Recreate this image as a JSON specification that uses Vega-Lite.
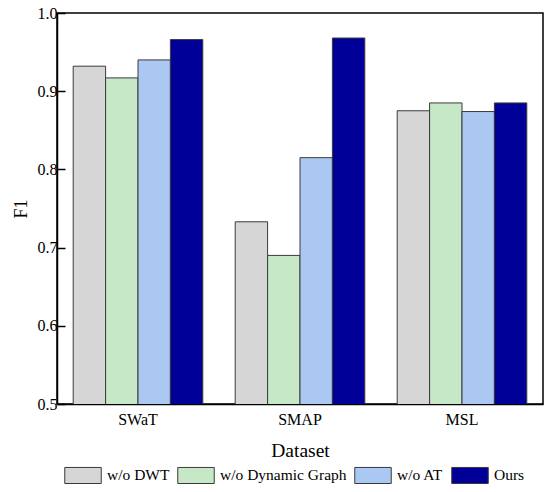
{
  "$schema": "https://vega.github.io/schema/vega-lite/v6.json",
  "width": 486,
  "height": 391,
  "autosize": {"type": "none"},
  "padding": {"left": 57, "top": 13, "right": 7, "bottom": 88},
  "background": "white",
  "config": {
    "font": "'Liberation Serif', 'Times New Roman', serif",
    "view": {"stroke": "black", "strokeWidth": 1.5},
    "axis": {"domainColor": "black", "domainWidth": 1.5, "tickColor": "black", "labelColor": "black", "titleColor": "black", "grid": false, "labelFont": "'Liberation Serif', 'Times New Roman', serif", "titleFont": "'Liberation Serif', 'Times New Roman', serif", "titleFontWeight": "normal"},
    "legend": {"labelFont": "'Liberation Serif', 'Times New Roman', serif", "labelColor": "black"}
  },
  "data": {
    "values": [
      {"dataset": "SWaT", "method": "w/o DWT", "f1": 0.932},
      {"dataset": "SWaT", "method": "w/o Dynamic Graph", "f1": 0.917},
      {"dataset": "SWaT", "method": "w/o AT", "f1": 0.940},
      {"dataset": "SWaT", "method": "Ours", "f1": 0.966},
      {"dataset": "SMAP", "method": "w/o DWT", "f1": 0.733},
      {"dataset": "SMAP", "method": "w/o Dynamic Graph", "f1": 0.690},
      {"dataset": "SMAP", "method": "w/o AT", "f1": 0.815},
      {"dataset": "SMAP", "method": "Ours", "f1": 0.968},
      {"dataset": "MSL", "method": "w/o DWT", "f1": 0.875},
      {"dataset": "MSL", "method": "w/o Dynamic Graph", "f1": 0.885},
      {"dataset": "MSL", "method": "w/o AT", "f1": 0.874},
      {"dataset": "MSL", "method": "Ours", "f1": 0.885}
    ]
  },
  "mark": {"type": "bar", "stroke": "#3a3a3a", "strokeWidth": 1, "clip": true},
  "encoding": {
    "x": {
      "field": "dataset",
      "type": "nominal",
      "sort": ["SWaT", "SMAP", "MSL"],
      "scale": {"paddingInner": 0.2, "paddingOuter": 0.1},
      "axis": {"title": "Dataset", "labelAngle": 0, "ticks": false, "labelFontSize": 16, "labelPadding": 7, "titleFontSize": 19.5, "titlePadding": 14}
    },
    "xOffset": {
      "field": "method",
      "type": "nominal",
      "sort": ["w/o DWT", "w/o Dynamic Graph", "w/o AT", "Ours"],
      "scale": {"paddingInner": 0, "paddingOuter": 0}
    },
    "y": {
      "field": "f1",
      "type": "quantitative",
      "scale": {"domain": [0.5, 1.0], "zero": false, "nice": false},
      "axis": {"title": "F1", "values": [0.5, 0.6, 0.7, 0.8, 0.9, 1.0], "format": ".1f", "tickSize": -8, "tickWidth": 1.5, "labelFontSize": 16, "labelPadding": 8, "titleFontSize": 18, "titlePadding": 7}
    },
    "color": {
      "field": "method",
      "type": "nominal",
      "sort": ["w/o DWT", "w/o Dynamic Graph", "w/o AT", "Ours"],
      "scale": {"domain": ["w/o DWT", "w/o Dynamic Graph", "w/o AT", "Ours"], "range": ["#d6d6d6", "#c6e8c6", "#aac8f2", "#000099"]},
      "legend": {
        "title": null,
        "orient": "none",
        "legendX": 7,
        "legendY": 443,
        "direction": "horizontal",
        "labelFontSize": 15.5,
        "symbolType": "M-1,-0.44H1V0.44H-1Z",
        "symbolSize": 1330,
        "symbolStrokeColor": "#3a3a3a",
        "symbolStrokeWidth": 1,
        "symbolOpacity": 1,
        "labelOffset": 5,
        "columnPadding": 5
      }
    }
  }
}
